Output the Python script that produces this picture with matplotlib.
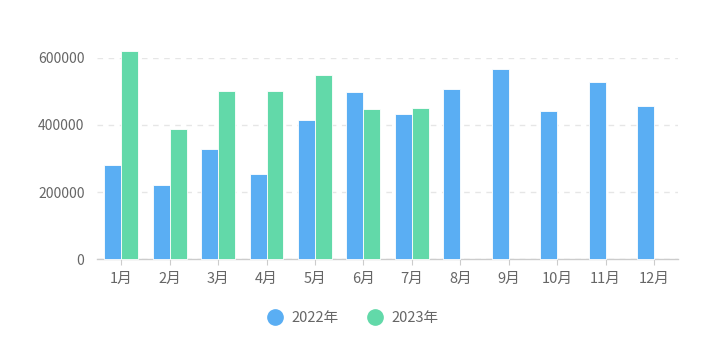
import numpy as np
import matplotlib.pyplot as plt
from matplotlib.lines import Line2D

plt.rcParams['font.family'] = ['Noto Sans CJK SC', 'DejaVu Sans']

months = ["1月", "2月", "3月", "4月", "5月", "6月", "7月", "8月", "9月", "10月", "11月", "12月"]
sales_2022 = [280000, 220000, 328000, 254000, 413000, 498000, 432000, 507000, 566000, 442000, 526000, 455000]
sales_2023 = [621000, 387000, 500000, 502000, 547000, 447000, 450000]
series_names = ["2022年", "2023年"]
yticks = [0, 200000, 400000, 600000]

blue = "#5aaef3"
green = "#62d9a9"

fig = plt.figure(figsize=(7.08, 3.6), dpi=100)
ax = fig.add_axes([0.137, 0.28, 0.821, 0.56])

x = np.arange(len(months))
w = 0.35
ax.bar(x - w / 2, sales_2022, width=w, color=blue, edgecolor="white", linewidth=0.6, clip_on=False, zorder=3)
x23 = np.arange(len(sales_2023))
ax.bar(x23 + w / 2, sales_2023, width=w, color=green, edgecolor="white", linewidth=0.6, clip_on=False, zorder=3)

ax.set_xlim(-0.5, len(months) - 0.5)
ax.set_ylim(0, 600000)
ax.set_yticks(yticks)
ax.set_yticklabels([str(v) for v in yticks])
ax.set_xticks(x)
ax.set_xticklabels(months)

for s in ["top", "right", "left"]:
    ax.spines[s].set_visible(False)
ax.spines["bottom"].set_color("#cccccc")
ax.spines["bottom"].set_linewidth(1)
ax.grid(axis="y", color="#e6e6e6", linestyle=(0, (4, 4)), linewidth=1, zorder=0)
ax.tick_params(axis="y", length=0, pad=9, labelsize=10, labelcolor="#666666")
ax.tick_params(axis="x", length=4, color="#cccccc", pad=5, labelsize=10.5, labelcolor="#666666")

handles = [Line2D([], [], marker="o", linestyle="none", markersize=11, color=c) for c in (blue, green)]
fig.legend(handles, series_names, loc="center", bbox_to_anchor=(0.499, 0.117), ncol=2, frameon=False,
           fontsize=10.5, labelcolor="#666666", handletextpad=0.6, columnspacing=2.0, handlelength=1)

fig.savefig("out.png", dpi=100)
